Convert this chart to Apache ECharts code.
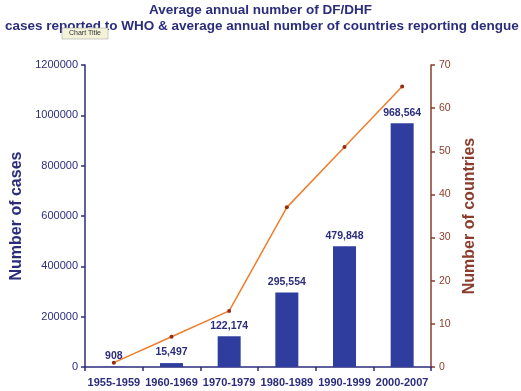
<!DOCTYPE html>
<html><head><meta charset="utf-8">
<script src="https://cdn.jsdelivr.net/npm/echarts@6/dist/echarts.min.js"></script>
<style>html,body{margin:0;padding:0;background:#fff}#c{width:521px;height:391px}</style>
</head><body><div id="c"></div>
<script>
const categories = ['1955-1959','1960-1969','1970-1979','1980-1989','1990-1999','2000-2007'];
const cases = [908, 15497, 122174, 295554, 479848, 968564];
const countries = [1, 7, 13, 37, 51, 65];
const titleLine1 = 'Average annual number of DF/DHF';
const titleLine2 = 'cases reported to WHO & average annual number of countries reporting dengue';

const navy = '#2b2d7c';
const brown = '#8a3d2c';
const font = '"Liberation Sans", Arial, sans-serif';
const chart = echarts.init(document.getElementById('c'));
chart.setOption({
  animation: false,
  textStyle: { fontFamily: font },
  title: [
    { text: titleLine1, left: 'center', top: -2, textStyle: { fontSize: 13.5, fontWeight: 'bold', color: navy, fontFamily: font } },
    { text: titleLine2, left: 0, top: 14, textStyle: { fontSize: 13.5, fontWeight: 'bold', color: navy, fontFamily: font } }
  ],
  graphic: [
    { type: 'rect', shape: { x: 62, y: 28, width: 46, height: 11 }, style: { fill: '#f4f2d8', stroke: '#999', lineWidth: 0.5 }, z: 100 },
    { type: 'text', x: 85, y: 33.5, style: { text: 'Chart Title', fontSize: 7, fill: '#333', align: 'center', verticalAlign: 'middle', fontFamily: font }, z: 101 }
  ],
  grid: { left: 85, right: 90, top: 65, bottom: 24 },
  xAxis: {
    type: 'category', data: categories, boundaryGap: true,
    axisLine: { lineStyle: { color: navy, width: 1.5 } },
    axisTick: { show: true, alignWithLabel: false, length: 4, inside: false, lineStyle: { color: navy, width: 1.5 } },
    axisLabel: { color: navy, fontSize: 11, fontWeight: 'bold', margin: 10, interval: 0, fontFamily: font }
  },
  yAxis: [
    { type: 'value', min: 0, max: 1200000, interval: 200000, name: 'Number of cases', nameLocation: 'middle', nameGap: 53, nameRotate: 90,
      nameTextStyle: { color: navy, fontSize: 16, fontWeight: 'bold', fontFamily: font },
      axisLine: { show: true, lineStyle: { color: navy, width: 1.5 } },
      axisTick: { show: true, length: 4, lineStyle: { color: navy, width: 1.5 } },
      splitLine: { show: false },
      axisLabel: { color: navy, fontSize: 11, margin: 7, fontFamily: font, formatter: v => String(v) } },
    { type: 'value', min: 0, max: 70, interval: 10, position: 'right', name: 'Number of countries', nameLocation: 'middle', nameGap: 30, nameRotate: 90,
      nameTextStyle: { color: brown, fontSize: 16, fontWeight: 'bold', fontFamily: font },
      axisLine: { show: true, lineStyle: { color: brown, width: 1.5 } },
      axisTick: { show: true, length: 4, lineStyle: { color: brown, width: 1.5 } },
      splitLine: { show: false },
      axisLabel: { color: brown, fontSize: 10.5, margin: 8, fontFamily: font } }
  ],
  series: [
    { type: 'bar', data: cases, yAxisIndex: 0, barWidth: 23,
      itemStyle: { color: '#2f3e9e' },
      label: { show: true, position: 'top', distance: 5, color: navy, fontSize: 10.5, fontWeight: 'bold', fontFamily: font,
        formatter: p => p.value.toLocaleString('en-US') } },
    { type: 'line', data: countries, yAxisIndex: 1, symbol: 'circle', symbolSize: 4,
      lineStyle: { color: '#ef7d2c', width: 1.5 },
      itemStyle: { color: '#9a2a10' }, z: 5 }
  ]
});
</script></body></html>
